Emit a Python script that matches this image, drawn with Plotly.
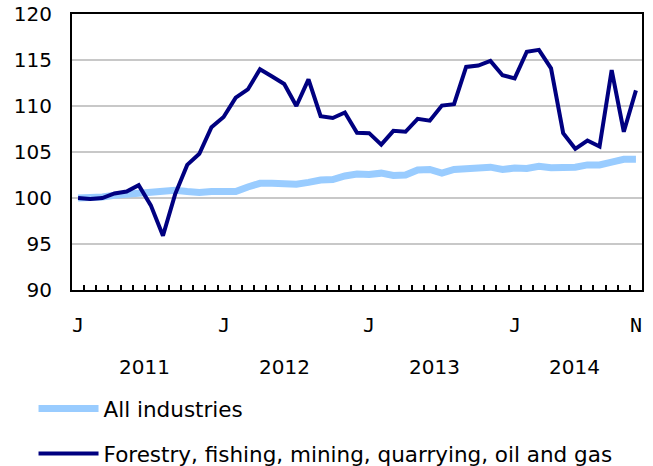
import plotly.graph_objects as go

months = list(range(47))  # Jan 2011 .. Nov 2014
all_industries = [100.0, 100.0, 100.1, 100.3, 100.4, 100.55, 100.6, 100.7, 100.85, 100.7,
                  100.6, 100.7, 100.75, 100.7, 101.2, 101.6, 101.6, 101.6, 101.5, 101.7,
                  101.95, 102.0, 102.4, 102.6, 102.55, 102.7, 102.45, 102.5, 103.05, 103.1,
                  102.7, 103.1, 103.15, 103.2, 103.35, 103.1, 103.25, 103.2, 103.45, 103.3,
                  103.35, 103.35, 103.6, 103.6, 103.9, 104.2, 104.2]
forestry = [100.0, 99.9, 100.0, 100.5, 100.7, 101.4, 99.2, 95.9, 100.4, 103.6,
            104.8, 107.7, 108.8, 110.9, 111.8, 114.0, 113.2, 112.4, 110.0, 112.9,
            108.9, 108.7, 109.3, 107.1, 107.05, 105.8, 107.3, 107.2, 108.6, 108.4,
            110.05, 110.2, 114.25, 114.4, 114.9, 113.35, 113.0, 115.9, 116.1, 114.1,
            107.05, 105.35, 106.25, 105.6, 113.9, 107.2, 111.7]
month_label_pos = [0, 12, 24, 36, 46]
month_labels = ["J", "J", "J", "J", "N"]
years = ["2011", "2012", "2013", "2014"]
year_pos = [5.5, 17.0, 29.4, 40.9]
y_ticks = [90, 95, 100, 105, 110, 115, 120]
month_boundaries = [i + 0.5 for i in range(46)]

FONT = "DejaVu Sans, Verdana, sans-serif"

fig = go.Figure()
fig.add_trace(go.Scatter(x=months, y=all_industries, mode="lines", name="All industries",
                         line=dict(color="#99ccff", width=7), legendgroup="a"))
fig.add_trace(go.Scatter(x=months, y=forestry, mode="lines",
                         name="Forestry, fishing, mining, quarrying, oil and gas",
                         line=dict(color="#000080", width=4), legendgroup="b"))

for lab, xp in zip(month_labels, month_label_pos):
    fig.add_annotation(x=xp, y=-0.127, xref="x", yref="paper", text=lab, showarrow=False,
                       font=dict(family="DejaVu Sans Mono, monospace", size=20, color="#000000"),
                       yanchor="middle")
for yr, xp in zip(years, year_pos):
    fig.add_annotation(x=xp, y=-0.279, xref="x", yref="paper", text=yr, showarrow=False,
                       font=dict(family=FONT, size=20, color="#000000"), yanchor="middle")

fig.update_layout(
    width=653, height=466,
    margin=dict(l=72, r=11, t=14, b=176, autoexpand=False),
    plot_bgcolor="white", paper_bgcolor="white",
    font=dict(family=FONT, size=20, color="#000000"),
    showlegend=True,
    legend=dict(x=-0.0675, y=-0.355, xanchor="left", yanchor="top", orientation="v",
                tracegroupgap=14, font=dict(family=FONT, size=21.5), itemwidth=60,
                bgcolor="rgba(0,0,0,0)"),
    xaxis=dict(range=[-0.5, 46.5], tickmode="array", tickvals=month_boundaries,
               ticktext=["" for _ in month_boundaries], ticks="inside", ticklen=5,
               tickwidth=2, tickcolor="#000000", showgrid=False, zeroline=False,
               showline=True, linecolor="#000000", linewidth=2, mirror=True,
               automargin=False),
    yaxis=dict(range=[90, 120], tickmode="array", tickvals=y_ticks, ticks="",
               showgrid=True, gridcolor="#c8c8c8", gridwidth=2, zeroline=False,
               showline=True, linecolor="#000000", linewidth=2, mirror=True,
               ticklabelstandoff=14, automargin=False),
)

fig.write_html("out.html", config={"displayModeBar": False},
               post_script="document.body.style.margin='0';document.body.style.overflow='hidden';")
